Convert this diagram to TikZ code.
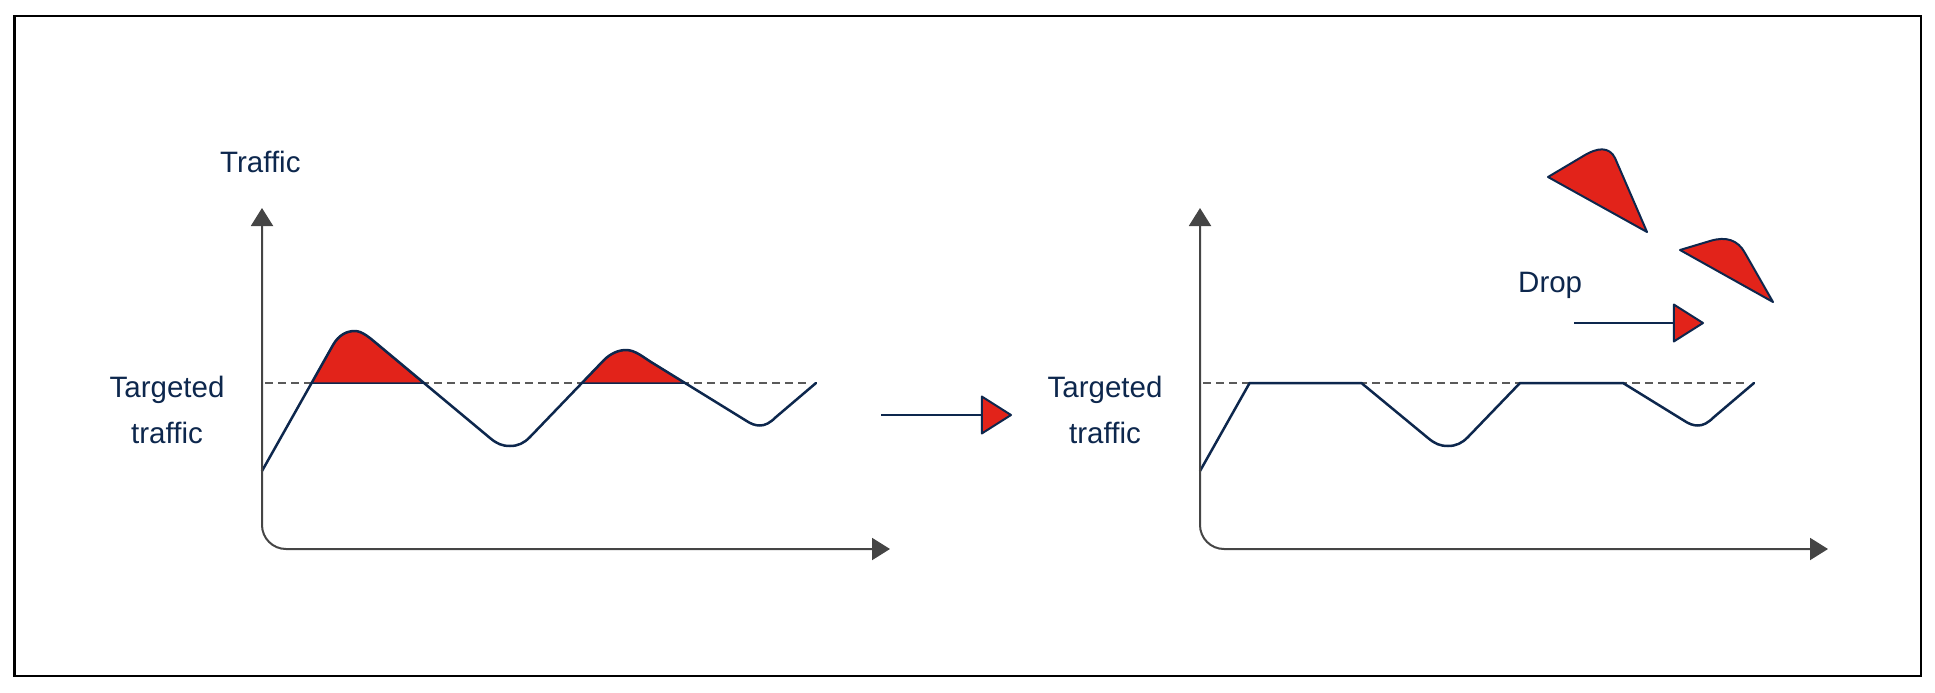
\documentclass[tikz,border=0pt]{standalone}
\usepackage{fontspec}
\setmainfont{Liberation Sans}
\usetikzlibrary{arrows.meta}
\definecolor{navy}{HTML}{0D274D}
\definecolor{cred}{HTML}{E2231A}
\definecolor{axgray}{HTML}{454545}
\definecolor{dashgray}{HTML}{5A5A5A}
\begin{document}
\begin{tikzpicture}[x=1pt,y=-1pt,
  axisline/.style={draw=axgray,line width=2pt,rounded corners=24pt,
    {Triangle[length=18pt,width=22pt]}-{Triangle[length=18pt,width=22pt]}},
  curveline/.style={draw=navy,line width=2.5pt,line join=round,line cap=round},
  humpfill/.style={fill=cred,draw=navy,line width=1.5pt,line join=round},
  target/.style={draw=dashgray,line width=1.5pt,dash pattern=on 8pt off 5pt},
  txt/.style={text=navy,inner sep=0pt,font=\fontsize{29.5}{46}\selectfont},
  redarrow/.style={draw=navy,line width=2pt,-{Triangle[length=32pt,width=40pt,fill=cred,round]}},
  drop/.style={fill=cred,draw=navy,line width=2pt,line join=round}
]
\useasboundingbox (0,0) rectangle (1935,693);
\draw[line width=2.3pt,black] (14.5,15.7) rectangle (1920.7,675.7);

% ---------- left chart ----------
\node[txt,anchor=base west] (traffic) at (220,172) {Traffic};
\node[txt,anchor=base] (tl1) at (167,397) {Targeted};
\node[txt,anchor=base] (tl2) at (167,443) {traffic};

\draw[target] (265,383) -- (808,383);
% humps above target
\path[humpfill] (311.6,383) -- (333,345) .. controls (339,334.5) and (347,331) .. (355,331)
  .. controls (362,331) and (370,338) .. (376,343) -- (423.4,383) -- cycle;
\path[humpfill] (582,383) -- (604,360) .. controls (610,354) and (618,350) .. (626,350)
  .. controls (635,350) and (643,357) .. (651,362) -- (685,383) -- cycle;
% traffic curve
\draw[curveline] (262,471) -- (333,345) .. controls (339,334.5) and (347,331) .. (355,331)
  .. controls (362,331) and (370,338) .. (376,343) -- (490,438)
  .. controls (497,443.8) and (502,446) .. (510,446)
  .. controls (518,446) and (524,443.2) .. (530,437) -- (604,360)
  .. controls (610,354) and (618,350) .. (626,350)
  .. controls (635,350) and (643,357) .. (651,362) -- (745,420)
  .. controls (751,424) and (755,425.5) .. (760,425.5)
  .. controls (765,425.5) and (770,423) .. (776,417) -- (816,383);
\draw[axisline] (262,208) -- (262,549) -- (890,549);

% ---------- middle arrow ----------
\coordinate (m1) at (881,415);
\coordinate (m2) at (1012,415);
\draw[redarrow] (m1) -- (m2);

% ---------- right chart ----------
\node[txt,anchor=base] (tr1) at (1105,397) {Targeted};
\node[txt,anchor=base] (tr2) at (1105,443) {traffic};
\begin{scope}[xshift=938pt]
\draw[target] (265,383) -- (808,383);
\draw[curveline] (262,471) -- (311.6,383) -- (423.4,383) -- (490,438)
  .. controls (497,443.8) and (502,446) .. (510,446)
  .. controls (518,446) and (524,443.2) .. (530,437) -- (582,383) -- (685,383) -- (745,420)
  .. controls (751,424) and (755,425.5) .. (760,425.5)
  .. controls (765,425.5) and (770,423) .. (776,417) -- (816,383);
\draw[axisline] (262,208) -- (262,549) -- (890,549);
\end{scope}

% ---------- dropped traffic ----------
\node[txt,anchor=base west] (droptxt) at (1518,292) {Drop};
\coordinate (d1) at (1574,323);
\coordinate (d2) at (1704,323);
\draw[redarrow] (d1) -- (d2);
\path[drop] (1548,177) -- (1585,155) .. controls (1597,148) and (1609,146) .. (1615,158)
  -- (1647,232) -- cycle;
\path[drop] (1680,250) -- (1710,241) .. controls (1726,236) and (1738,240) .. (1745,253)
  -- (1773,302) -- cycle;
\end{tikzpicture}
\end{document}
